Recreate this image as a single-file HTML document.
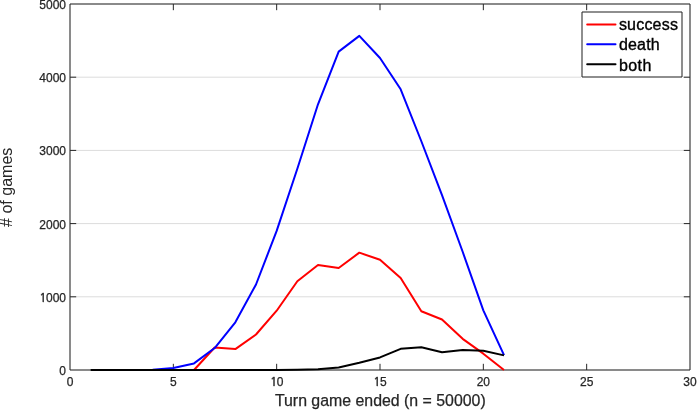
<!DOCTYPE html><html><head><meta charset="utf-8"><style>html,body{margin:0;padding:0;background:#fff;}svg{display:block;}text{font-family:"Liberation Sans",Arial,Helvetica,sans-serif;fill:#262626;stroke:#262626;stroke-width:0.25px;}.one{font-family:"NanumGothic","Liberation Sans",sans-serif;stroke-width:0.5px;letter-spacing:-0.6px;}</style></head><body>
<svg width="697" height="410" viewBox="0 0 697 410">
<rect x="0" y="0" width="697" height="410" fill="#fff"/>
<line x1="71.0" y1="296.80" x2="689.0" y2="296.80" stroke="#dcdcdc" stroke-width="1"/>
<line x1="71.0" y1="223.60" x2="689.0" y2="223.60" stroke="#dcdcdc" stroke-width="1"/>
<line x1="71.0" y1="150.40" x2="689.0" y2="150.40" stroke="#dcdcdc" stroke-width="1"/>
<line x1="71.0" y1="77.20" x2="689.0" y2="77.20" stroke="#dcdcdc" stroke-width="1"/>
<line x1="173.33" y1="370.0" x2="173.33" y2="363.8" stroke="#262626" stroke-width="1"/>
<line x1="173.33" y1="4.0" x2="173.33" y2="10.2" stroke="#262626" stroke-width="1"/>
<line x1="276.67" y1="370.0" x2="276.67" y2="363.8" stroke="#262626" stroke-width="1"/>
<line x1="276.67" y1="4.0" x2="276.67" y2="10.2" stroke="#262626" stroke-width="1"/>
<line x1="380.00" y1="370.0" x2="380.00" y2="363.8" stroke="#262626" stroke-width="1"/>
<line x1="380.00" y1="4.0" x2="380.00" y2="10.2" stroke="#262626" stroke-width="1"/>
<line x1="483.33" y1="370.0" x2="483.33" y2="363.8" stroke="#262626" stroke-width="1"/>
<line x1="483.33" y1="4.0" x2="483.33" y2="10.2" stroke="#262626" stroke-width="1"/>
<line x1="586.67" y1="370.0" x2="586.67" y2="363.8" stroke="#262626" stroke-width="1"/>
<line x1="586.67" y1="4.0" x2="586.67" y2="10.2" stroke="#262626" stroke-width="1"/>
<line x1="70.0" y1="296.80" x2="76.2" y2="296.80" stroke="#262626" stroke-width="1"/>
<line x1="690.0" y1="296.80" x2="683.8" y2="296.80" stroke="#262626" stroke-width="1"/>
<line x1="70.0" y1="223.60" x2="76.2" y2="223.60" stroke="#262626" stroke-width="1"/>
<line x1="690.0" y1="223.60" x2="683.8" y2="223.60" stroke="#262626" stroke-width="1"/>
<line x1="70.0" y1="150.40" x2="76.2" y2="150.40" stroke="#262626" stroke-width="1"/>
<line x1="690.0" y1="150.40" x2="683.8" y2="150.40" stroke="#262626" stroke-width="1"/>
<line x1="70.0" y1="77.20" x2="76.2" y2="77.20" stroke="#262626" stroke-width="1"/>
<line x1="690.0" y1="77.20" x2="683.8" y2="77.20" stroke="#262626" stroke-width="1"/>
<rect x="70" y="3" width="620" height="2" fill="#262626" fill-opacity="0.54"/>
<rect x="70" y="369" width="620" height="2" fill="#262626" fill-opacity="0.54"/>
<rect x="69" y="4" width="2" height="366" fill="#262626" fill-opacity="0.54"/>
<rect x="689" y="4" width="2" height="366" fill="#262626" fill-opacity="0.54"/>
<polyline points="194.00,370.00 214.67,347.45 235.33,349.06 256.00,334.50 276.67,310.71 297.33,281.28 318.00,264.96 338.67,268.03 359.33,252.66 380.00,259.76 400.67,278.06 421.33,311.29 442.00,319.49 462.67,338.82 483.33,353.68 504.00,370.00" fill="none" stroke="#ff0000" stroke-width="2" stroke-linejoin="round" stroke-linecap="butt"/>
<polyline points="132.00,370.00 152.67,369.71 173.33,368.10 194.00,363.41 214.67,348.04 235.33,322.27 256.00,284.50 276.67,230.92 297.33,168.70 318.00,104.28 338.67,51.58 359.33,35.84 380.00,57.95 400.67,89.28 421.33,141.25 442.00,195.05 462.67,251.78 483.33,310.34 504.00,355.14" fill="none" stroke="#0000ff" stroke-width="2" stroke-linejoin="round" stroke-linecap="butt"/>
<polyline points="90.67,370.00 111.33,370.00 132.00,370.00 152.67,370.00 173.33,370.00 194.00,370.00 214.67,370.00 235.33,370.00 256.00,370.00 276.67,370.00 297.33,369.85 318.00,369.34 338.67,367.58 359.33,362.83 380.00,357.41 400.67,348.85 421.33,347.23 442.00,352.21 462.67,350.02 483.33,350.82 504.00,355.36" fill="none" stroke="#000000" stroke-width="2" stroke-linejoin="round" stroke-linecap="butt"/>
<text x="70.00" y="386" font-size="12" text-anchor="middle">0</text>
<text x="173.33" y="386" font-size="12" text-anchor="middle">5</text>
<text x="276.67" y="386" font-size="12" text-anchor="middle"><tspan class="one">1</tspan>0</text>
<text x="380.00" y="386" font-size="12" text-anchor="middle"><tspan class="one">1</tspan>5</text>
<text x="483.33" y="386" font-size="12" text-anchor="middle">20</text>
<text x="586.67" y="386" font-size="12" text-anchor="middle">25</text>
<text x="690.00" y="386" font-size="12" text-anchor="middle">30</text>
<text x="66" y="375" font-size="12" text-anchor="end">0</text>
<text x="66" y="302" font-size="12" text-anchor="end"><tspan class="one">1</tspan>000</text>
<text x="66" y="229" font-size="12" text-anchor="end">2000</text>
<text x="66" y="155" font-size="12" text-anchor="end">3000</text>
<text x="66" y="82" font-size="12" text-anchor="end">4000</text>
<text x="66" y="9" font-size="12" text-anchor="end">5000</text>
<text x="380.3" y="406" font-size="15.89" text-anchor="middle">Turn game ended (n = 50000)</text>
<text transform="translate(12.2,187.3) rotate(-90)" x="0" y="0" font-size="16" text-anchor="middle" style="stroke-width:0"># of games</text>
<rect x="581" y="11" width="102" height="67" fill="#fff"/>
<rect x="582" y="11" width="100" height="2" fill="#262626" fill-opacity="0.52"/>
<rect x="582" y="76" width="100" height="2" fill="#262626" fill-opacity="0.52"/>
<rect x="581" y="12" width="2" height="65" fill="#262626" fill-opacity="0.52"/>
<rect x="681" y="12" width="2" height="65" fill="#262626" fill-opacity="0.52"/>
<line x1="587.2" y1="24.40" x2="615.5" y2="24.40" stroke="#ff0000" stroke-width="2" stroke-linecap="round"/>
<text x="618.9" y="29.5" font-size="16" letter-spacing="0.2" style="fill:#000;stroke:#000;stroke-width:0.35px">success</text>
<line x1="587.2" y1="44.30" x2="615.5" y2="44.30" stroke="#0000ff" stroke-width="2" stroke-linecap="round"/>
<text x="618.9" y="49.5" font-size="16" letter-spacing="0.2" style="fill:#000;stroke:#000;stroke-width:0.35px">death</text>
<line x1="587.2" y1="64.20" x2="615.5" y2="64.20" stroke="#000000" stroke-width="2" stroke-linecap="round"/>
<text x="618.9" y="71" font-size="16" letter-spacing="0.45" style="fill:#000;stroke:#000;stroke-width:0.35px">both</text>
</svg></body></html>
